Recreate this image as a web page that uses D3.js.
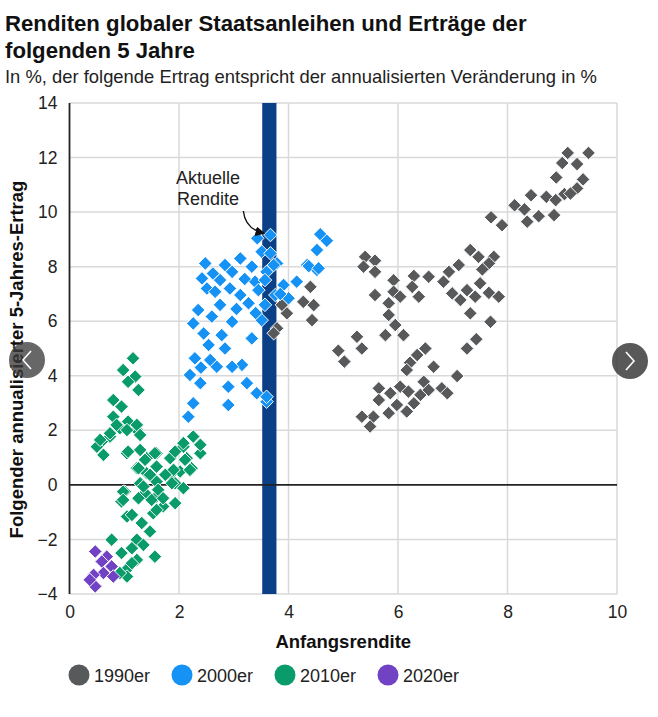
<!DOCTYPE html>
<html>
<head>
<meta charset="utf-8">
<script src="https://cdn.jsdelivr.net/npm/d3@7/dist/d3.min.js"></script>
<style>
  html, body { margin: 0; padding: 0; background: #fff; }
  svg { display: block; font-family: "Liberation Sans", Arial, sans-serif; }
</style>
</head>
<body>
<svg id="chart" width="658" height="717"></svg>
<script>
// ---------- DATA ----------
const titleLines = ["Renditen globaler Staatsanleihen und Erträge der", "folgenden 5 Jahre"];
const subtitle = "In %, der folgende Ertrag entspricht der annualisierten Veränderung in %";
const xLabel = "Anfangsrendite";
const yLabel = "Folgender annualisierter 5-Jahres-Ertrag";
const xTicks = [0, 2, 4, 6, 8, 10];
const yTicks = [-4, -2, 0, 2, 4, 6, 8, 10, 12, 14];
const seriesNames = ["1990er", "2000er", "2010er", "2020er"];
const seriesColors = ["#58595b", "#1592f3", "#0a9b6b", "#7143c4"];
const currentYield = 3.65;           // "Aktuelle Rendite"
const currentYieldBand = [3.52, 3.78];

const data1990 = [
  [9.48,12.17],[9.10,12.17],[9.0,11.8],[9.27,11.76],[8.89,11.27],[9.38,11.2],[9.27,10.87],[9.04,10.66],
  [9.15,10.68],[8.71,10.56],[8.43,10.62],[8.88,10.44],[8.13,10.25],[8.31,10.1],[8.57,9.85],[8.85,9.89],
  [8.36,9.65],[7.70,9.81],[7.90,9.52],
  [5.40,8.36],[5.58,8.22],[5.37,8.0],[5.58,7.81],[7.32,8.61],[7.47,8.36],[7.75,8.36],[7.66,8.12],
  [7.54,7.9],[7.11,8.06],[6.93,7.81],[5.92,7.5],[6.29,7.66],[6.56,7.63],[6.83,7.45],[7.50,7.39],
  [5.58,6.96],[5.92,7.08],[6.04,6.9],[5.83,6.66],[6.38,6.9],[6.26,7.26],[6.99,7.02],[7.26,7.14],
  [7.14,6.78],[7.41,6.9],[7.66,7.04],[7.84,6.9],[7.32,6.29],[7.69,5.98],[5.83,6.23],[5.95,5.86],
  [5.77,5.49],[6.10,5.49],[5.25,5.43],[5.34,5.0],[4.91,4.92],[5.02,4.52],
  [7.26,5.0],[7.43,5.34],[7.08,3.99],[6.50,5.0],[6.35,4.76],[6.22,4.48],[6.65,4.33],[6.47,3.78],
  [6.80,3.54],[6.16,4.21],
  [5.65,3.54],[5.86,3.36],[6.04,3.6],[6.19,3.42],[6.41,3.3],[6.56,3.48],[5.65,3.11],[5.98,2.93],
  [6.29,2.99],[5.55,2.5],[5.83,2.63],[6.16,2.69],[5.34,2.5],[5.49,2.14],[6.90,3.36],
  [4.40,7.26],[4.46,6.59],[4.27,6.71],[4.43,6.04],[3.97,6.29],[3.79,5.74],[3.73,5.56],[3.88,6.6]
];

const data2000 = [
  [4.58,9.19],[4.70,8.95],[3.67,9.16],[3.43,9.04],[3.51,8.55],[3.67,8.49],[3.12,8.3],[2.48,8.12],
  [2.84,8.06],[2.97,7.81],[3.33,8.0],[3.60,7.81],[3.79,8.12],[4.52,8.61],[4.34,8.06],[4.52,7.88],
  [2.42,7.57],[2.75,7.51],[3.39,7.45],[3.57,7.51],[4.15,7.45],[3.91,7.33],[2.51,7.2],[2.66,7.08],
  [2.93,7.2],[3.12,6.96],[3.45,7.14],[3.27,6.66],[3.57,6.6],[3.76,6.96],[4.0,6.84],[2.75,6.6],
  [2.35,6.41],[2.26,5.92],[2.60,6.17],[2.97,5.98],[3.51,6.04],[3.33,5.37],[2.78,5.49],[2.54,5.13],
  [2.84,5.0],[2.29,4.64],[2.57,4.58],[2.69,4.33],[3.15,4.4],[2.97,4.33],[2.20,4.03],[2.39,3.73],
  [3.24,3.73],[2.90,3.6],[3.42,3.36],[3.60,3.05],[2.26,2.99],[2.90,2.93],[2.17,2.5],
  [4.37,8.02],[4.55,7.94],[3.73,8.06],[3.60,3.23],[3.05,6.45],[2.45,5.55],[3.20,7.55],[2.62,7.75],
  [3.85,7.0],[3.40,6.3],[2.40,4.3]
];

const data2010 = [
  [1.16,4.64],[0.98,4.21],[1.20,3.97],[1.07,3.78],[1.26,3.48],[0.80,3.11],[0.95,2.87],[0.80,2.5],
  [1.07,2.32],[0.92,2.08],[1.23,2.01],[0.74,1.77],[0.59,1.59],[0.50,1.40],[0.62,1.1],[1.05,1.16],
  [1.29,1.28],[1.41,0.98],[1.59,1.16],[1.84,0.98],[2.08,1.40],[2.26,1.77],[2.39,1.16],[2.14,0.98],
  [2.23,0.61],[2.02,0.49],[1.84,0.37],[1.23,0.61],[1.41,0.43],[1.59,0.67],[1.29,0.06],[1.59,0.12],
  [1.93,0.06],[2.08,-0.12],[1.01,-0.25],[1.38,-0.3],[1.59,-0.43],[0.95,-0.61],[1.93,-0.67],[1.71,-0.79],
  [1.53,-1.04],[1.05,-1.16],[1.32,-1.40],[1.47,-1.71],[0.77,-2.01],[1.23,-2.01],[1.14,-2.32],[1.35,-2.2],
  [1.56,-2.63],[0.95,-2.5],[1.23,-2.75],[1.07,-3.05],[1.05,-3.36],[1.14,-2.87],[0.92,-3.23],
  [0.56,1.65],[0.74,1.89],[0.86,2.2],[1.05,2.01],[1.07,1.22],[1.23,2.2],[1.29,1.83],[1.38,0.92],
  [1.56,1.16],[1.93,1.22],[2.08,1.53],[2.39,1.47],[2.11,0.92],[2.20,0.55],[1.90,0.55],[1.75,0.37],
  [1.47,0.37],[1.26,0.61],[1.87,0.06],[1.62,-0.18],[1.35,-0.06],[0.98,-0.25],[1.26,-0.49],[1.50,-0.55],
  [1.71,-0.49],[0.98,-0.55],[1.59,-0.92],[1.14,-1.10]
];

const data2020 = [
  [0.47,-2.44],[0.68,-2.63],[0.59,-2.81],[0.77,-2.99],[0.62,-3.23],[0.44,-3.30],[0.80,-3.36],
  [0.47,-3.72],[0.37,-3.48]
];

const allSeries = [data1990, data2000, data2010, data2020];

// ---------- LAYOUT ----------
const svg = d3.select("#chart");
const W = 658, H = 717;
svg.append("rect").attr("width", W).attr("height", H).attr("fill", "#fff");

const x = d3.scaleLinear().domain([0, 10]).range([69.5, 617]);
const y = d3.scaleLinear().domain([-4, 14]).range([594, 103]);

// Title
svg.append("g").selectAll("text").data(titleLines).join("text")
  .attr("x", 5).attr("y", (d, i) => 31 + i * 26.5)
  .attr("font-size", 22.2).attr("font-weight", "bold").attr("fill", "#111")
  .text(d => d);
svg.append("text").attr("x", 5).attr("y", 83)
  .attr("font-size", 18.4).attr("fill", "#222").text(subtitle);

// Gridlines
const grid = svg.append("g");
grid.selectAll("line.h").data(yTicks.filter(t => t !== 0)).join("line")
  .attr("x1", x(0)).attr("x2", x(10))
  .attr("y1", d => y(d)).attr("y2", d => y(d))
  .attr("stroke", "#d9d9d9").attr("stroke-width", 1.5);
grid.selectAll("line.v").data(xTicks.filter(t => t !== 0)).join("line")
  .attr("y1", y(-4)).attr("y2", y(14))
  .attr("x1", d => x(d)).attr("x2", d => x(d))
  .attr("stroke", "#d9d9d9").attr("stroke-width", 1.5);

// Current yield band
svg.append("rect")
  .attr("x", x(currentYieldBand[0])).attr("width", x(currentYieldBand[1]) - x(currentYieldBand[0]))
  .attr("y", y(14)).attr("height", y(-4) - y(14))
  .attr("fill", "#0b3f86");

// Axes lines
svg.append("line").attr("x1", x(0)).attr("x2", x(0)).attr("y1", y(14)).attr("y2", y(-4))
  .attr("stroke", "#222").attr("stroke-width", 1.8);
svg.append("line").attr("x1", x(0)).attr("x2", x(10)).attr("y1", y(0)).attr("y2", y(0))
  .attr("stroke", "#222").attr("stroke-width", 1.8);

// Axis tick labels via d3 axes
const yAxis = d3.axisLeft(y).tickValues(yTicks).tickSize(0).tickPadding(12).tickFormat(d3.format("d"));
const gy = svg.append("g").attr("transform", `translate(${x(0)},0)`).call(yAxis);
gy.select(".domain").remove();
gy.selectAll("text").attr("font-size", 17.5).attr("fill", "#222")
  .attr("font-family", "'Liberation Sans', Arial, sans-serif");

const xAxis = d3.axisBottom(x).tickValues(xTicks).tickSize(0).tickPadding(12).tickFormat(d3.format("d"));
const gx = svg.append("g").attr("transform", `translate(0,${y(-4)})`).call(xAxis);
gx.select(".domain").remove();
gx.selectAll("text").attr("font-size", 17.5).attr("fill", "#222")
  .attr("font-family", "'Liberation Sans', Arial, sans-serif");

// Axis titles
svg.append("text").attr("x", (x(0) + x(10)) / 2).attr("y", 648)
  .attr("text-anchor", "middle").attr("font-size", 18.5).attr("font-weight", "bold").attr("fill", "#111")
  .text(xLabel);
svg.append("text").attr("transform", `translate(23,${(y(-4) + y(14)) / 2 + 11}) rotate(-90)`)
  .attr("text-anchor", "middle").attr("font-size", 18.5).attr("font-weight", "bold").attr("fill", "#111")
  .text(yLabel);

// Points
const sym = d3.symbol().type(d3.symbolSquare).size(92);
allSeries.forEach((series, i) => {
  svg.append("g").selectAll("path").data(series).join("path")
    .attr("d", sym)
    .attr("transform", d => `translate(${x(d[0])},${y(d[1])}) rotate(45)`)
    .attr("fill", seriesColors[i])
    .attr("stroke", "#fff").attr("stroke-width", 0.9);
});

// Annotation
const ann = svg.append("g");
ann.append("text").attr("x", 208).attr("y", 184).attr("text-anchor", "middle")
  .attr("font-size", 18).attr("fill", "#222").text("Aktuelle");
ann.append("text").attr("x", 208).attr("y", 205).attr("text-anchor", "middle")
  .attr("font-size", 18).attr("fill", "#222").text("Rendite");
svg.append("defs").append("marker").attr("id", "arrow")
  .attr("viewBox", "0 0 10 10").attr("refX", 8).attr("refY", 5)
  .attr("markerWidth", 7).attr("markerHeight", 7).attr("orient", "auto")
  .append("path").attr("d", "M0,0 L10,5 L0,10 z").attr("fill", "#111");
const ax0 = x(currentYield) - 26, ay0 = 211;
const ax1 = x(currentYield) - 6, ay1 = 233;
ann.append("path")
  .attr("d", `M${ax0},${ay0} Q${ax0 + 2},${ay1 - 4} ${ax1},${ay1}`)
  .attr("fill", "none").attr("stroke", "#111").attr("stroke-width", 1.4)
  .attr("marker-end", "url(#arrow)");

// Legend
const legX = [79, 182, 285, 388];
const leg = svg.append("g");
seriesNames.forEach((n, i) => {
  leg.append("circle").attr("cx", legX[i]).attr("cy", 675).attr("r", 10.5).attr("fill", seriesColors[i]);
  leg.append("text").attr("x", legX[i] + 15).attr("y", 681.5).attr("font-size", 18).attr("fill", "#222").text(n);
});

// Carousel overlay buttons (as in screenshot)
const btn = svg.append("g");
btn.append("circle").attr("cx", 27).attr("cy", 360).attr("r", 18).attr("fill", "rgba(60,60,60,0.78)");
btn.append("path").attr("d", "M31,351 L23,360 L31,369").attr("fill", "none").attr("stroke", "#fff").attr("stroke-width", 1.6);
btn.append("circle").attr("cx", 630).attr("cy", 361).attr("r", 18).attr("fill", "rgba(60,60,60,0.85)");
btn.append("path").attr("d", "M626,352 L634,361 L626,370").attr("fill", "none").attr("stroke", "#fff").attr("stroke-width", 1.6);
</script>
</body>
</html>
